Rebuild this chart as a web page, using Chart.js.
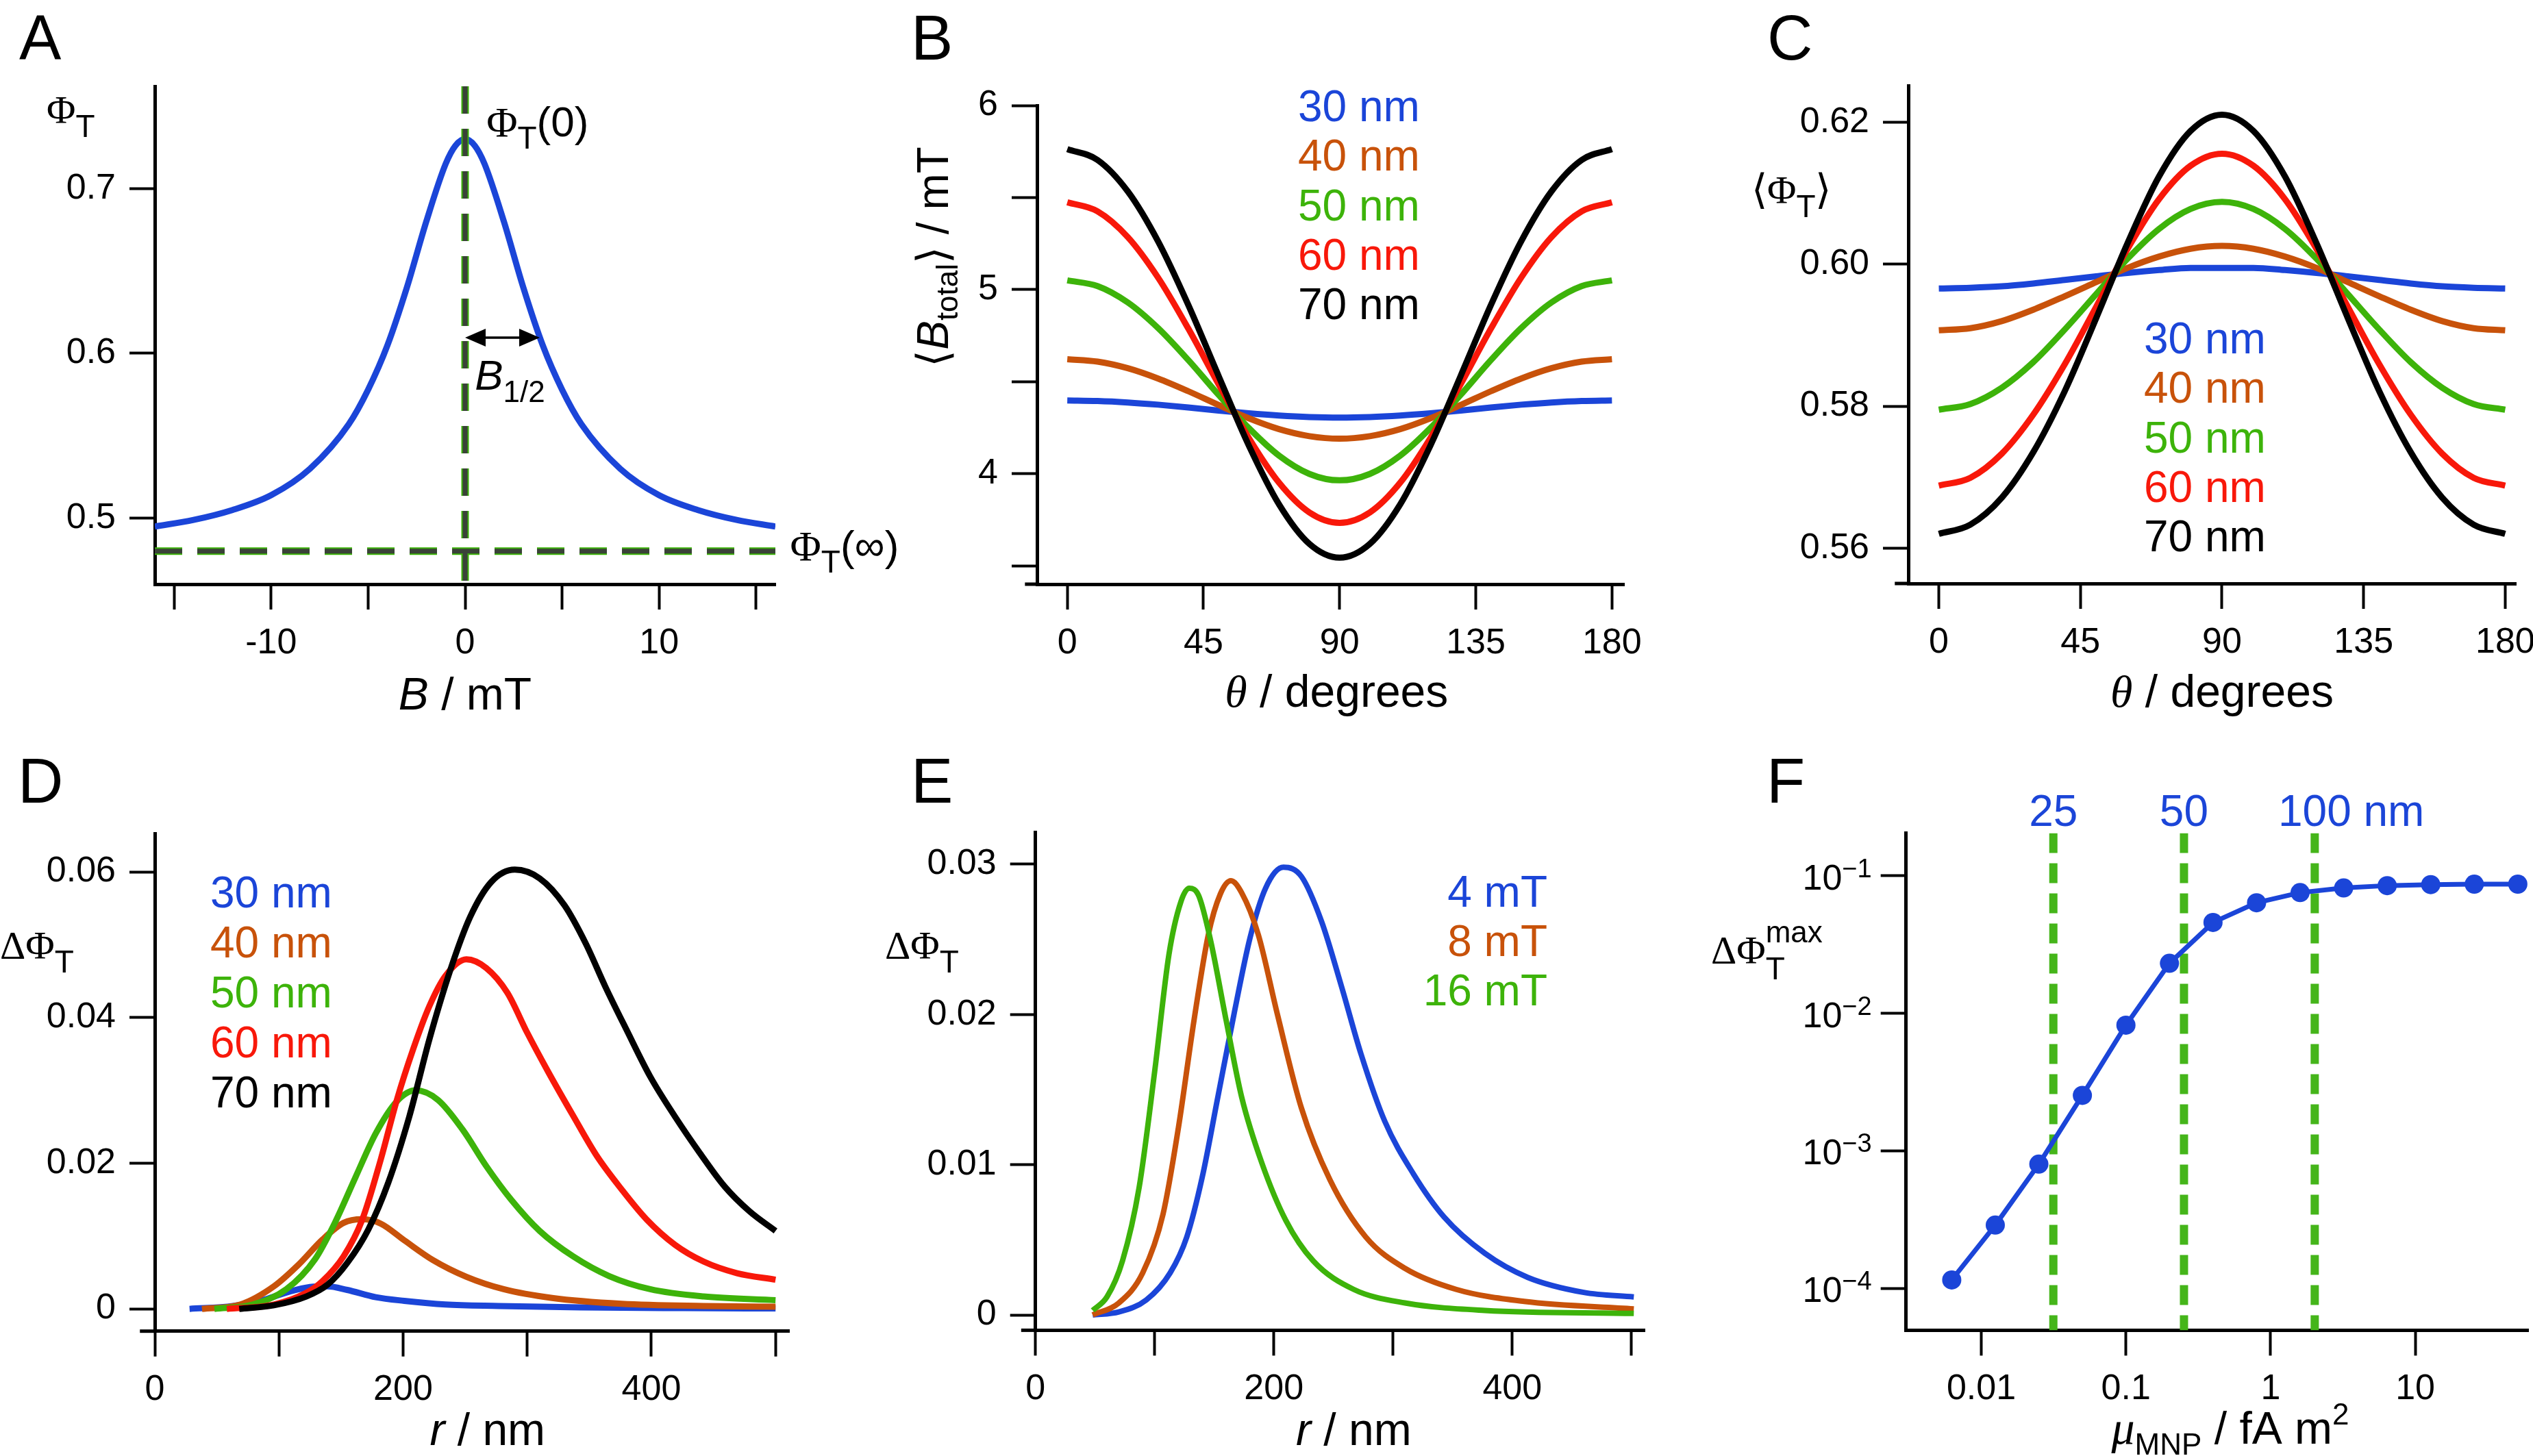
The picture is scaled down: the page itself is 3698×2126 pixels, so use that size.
<!DOCTYPE html>
<html>
<head>
<meta charset="utf-8">
<script src="https://cdn.jsdelivr.net/npm/chart.js@4.4.1/dist/chart.umd.min.js"></script>
<style>
  html, body { margin: 0; padding: 0; background: #fff; }
  body { width: 3698px; height: 2126px; position: relative; overflow: hidden; }
  .panel { position: absolute; }
</style>
</head>
<body>
<div class="panel" style="left:0px;top:0px"><canvas id="chartA" width="1350" height="1063"></canvas></div>
<div class="panel" style="left:1250px;top:0px"><canvas id="chartB" width="1200" height="1063"></canvas></div>
<div class="panel" style="left:2450px;top:0px"><canvas id="chartC" width="1248" height="1063"></canvas></div>
<div class="panel" style="left:0px;top:1063px"><canvas id="chartD" width="1250" height="1063"></canvas></div>
<div class="panel" style="left:1250px;top:1063px"><canvas id="chartE" width="1200" height="1063"></canvas></div>
<div class="panel" style="left:2450px;top:1063px"><canvas id="chartF" width="1248" height="1063"></canvas></div>
<script>
// ---- data ----

// A: Phi_T vs B
const bField = [-16, -14, -12, -10, -8, -6, -5, -4, -3, -2, -1, -0.5, 0, 0.5, 1, 2, 3, 4, 5, 6, 8, 10, 12, 14, 16];
const phiT = [0.495, 0.499, 0.505, 0.514, 0.530, 0.557, 0.578, 0.605, 0.640, 0.680, 0.715, 0.726, 0.730, 0.726, 0.715, 0.680, 0.640, 0.605, 0.578, 0.557, 0.530, 0.514, 0.505, 0.499, 0.495];
const phiZeroB = 0;        // vertical dashed line
const phiInf = 0.48;       // horizontal dashed line
const bHalf = 3.85;        // arrow length

// B and C: angle sweep
const theta = [0, 10, 20, 30, 40, 50, 60, 70, 80, 90, 100, 110, 120, 130, 140, 150, 160, 170, 180];
const sizeLabels = ['30 nm', '40 nm', '50 nm', '60 nm', '70 nm'];

const bTotal30 = [4.398, 4.395, 4.387, 4.375, 4.360, 4.343, 4.328, 4.316, 4.308, 4.305, 4.308, 4.316, 4.328, 4.343, 4.360, 4.375, 4.387, 4.395, 4.398];
const bTotal40 = [4.622, 4.609, 4.573, 4.517, 4.448, 4.373, 4.301, 4.242, 4.204, 4.190, 4.204, 4.242, 4.301, 4.373, 4.448, 4.517, 4.573, 4.609, 4.622];
const bTotal50 = [5.050, 5.019, 4.930, 4.791, 4.617, 4.428, 4.248, 4.098, 3.999, 3.964, 3.999, 4.098, 4.248, 4.428, 4.617, 4.791, 4.930, 5.019, 5.050];
const bTotal60 = [5.474, 5.425, 5.285, 5.065, 4.788, 4.486, 4.194, 3.951, 3.790, 3.733, 3.790, 3.951, 4.194, 4.486, 4.788, 5.065, 5.285, 5.425, 5.474];
const bTotal70 = [5.763, 5.704, 5.533, 5.262, 4.916, 4.531, 4.153, 3.833, 3.619, 3.544, 3.619, 3.833, 4.153, 4.531, 4.916, 5.262, 5.533, 5.704, 5.763];

const phiAvg30 = [0.5966, 0.5967, 0.5969, 0.5973, 0.5978, 0.5983, 0.5988, 0.5992, 0.5995, 0.5995, 0.5995, 0.5992, 0.5988, 0.5983, 0.5978, 0.5973, 0.5969, 0.5967, 0.5966];
const phiAvg40 = [0.5907, 0.5910, 0.5920, 0.5936, 0.5955, 0.5975, 0.5995, 0.6011, 0.6022, 0.6026, 0.6022, 0.6011, 0.5995, 0.5975, 0.5955, 0.5936, 0.5920, 0.5910, 0.5907];
const phiAvg50 = [0.5795, 0.5803, 0.5826, 0.5862, 0.5908, 0.5958, 0.6008, 0.6050, 0.6078, 0.6088, 0.6078, 0.6050, 0.6008, 0.5958, 0.5908, 0.5862, 0.5826, 0.5803, 0.5795];
const phiAvg60 = [0.5688, 0.5699, 0.5733, 0.5788, 0.5859, 0.5940, 0.6022, 0.6092, 0.6139, 0.6156, 0.6139, 0.6092, 0.6022, 0.5940, 0.5859, 0.5788, 0.5733, 0.5699, 0.5688];
const phiAvg70 = [0.5620, 0.5633, 0.5671, 0.5735, 0.5821, 0.5924, 0.6030, 0.6124, 0.6188, 0.6211, 0.6188, 0.6124, 0.6030, 0.5924, 0.5821, 0.5735, 0.5671, 0.5633, 0.5620];

// D: delta Phi_T vs r for each particle size
const rD30 = [28, 63, 89, 109, 125, 139, 155, 178, 201, 234, 277, 343, 426, 500];
const dPhiD30 = [0, 0.0004, 0.0013, 0.0024, 0.0030, 0.0031, 0.0026, 0.0016, 0.0011, 0.0006, 0.0004, 0.0002, 0.0001, 0.00005];
const rD40 = [38, 69, 96, 116, 135, 152, 167, 182, 201, 224, 251, 281, 320, 376, 442, 500];
const dPhiD40 = [0, 0.0006, 0.0031, 0.0061, 0.0095, 0.0118, 0.0123, 0.0117, 0.0094, 0.0067, 0.0044, 0.0027, 0.0015, 0.0007, 0.0004, 0.0003];
const rD50 = [48, 79, 106, 129, 145, 162, 178, 195, 210, 228, 248, 267, 287, 310, 337, 366, 399, 442, 500];
const dPhiD50 = [0, 0.0006, 0.0027, 0.0068, 0.0118, 0.0182, 0.0241, 0.0285, 0.0300, 0.0287, 0.0246, 0.0196, 0.0150, 0.0107, 0.0072, 0.0045, 0.0027, 0.0017, 0.0012];
const rD60 = [58, 96, 122, 135, 152, 167, 182, 195, 208, 221, 234, 251, 267, 284, 300, 317, 337, 356, 376, 396, 419, 442, 469, 500];
const dPhiD60 = [0, 0.0006, 0.0022, 0.0038, 0.0072, 0.0122, 0.0205, 0.0287, 0.0356, 0.0415, 0.0457, 0.0480, 0.0468, 0.0434, 0.0379, 0.0325, 0.0265, 0.0210, 0.0164, 0.0123, 0.0088, 0.0065, 0.0049, 0.0040];
const rD70 = [68, 96, 122, 139, 155, 172, 188, 205, 221, 238, 254, 271, 290, 310, 330, 347, 363, 380, 399, 419, 439, 459, 479, 500];
const dPhiD70 = [0, 0.0005, 0.0017, 0.0033, 0.0063, 0.0109, 0.0173, 0.0264, 0.0369, 0.0465, 0.0538, 0.0586, 0.0603, 0.0591, 0.0554, 0.0502, 0.0442, 0.0383, 0.0319, 0.0264, 0.0214, 0.0168, 0.0134, 0.0107];

// E: delta Phi_T vs r for three field strengths
const fieldLabels = ['4 mT', '8 mT', '16 mT'];
const rE4 = [48, 70, 93, 113, 127, 140, 153, 167, 180, 193, 208, 223, 240, 257, 273, 293, 317, 343, 377, 413, 460, 502];
const dPhiE4 = [0, 0.0002, 0.0010, 0.0028, 0.0052, 0.0092, 0.0145, 0.0202, 0.0251, 0.0284, 0.0298, 0.0292, 0.0262, 0.0218, 0.0174, 0.0129, 0.0094, 0.0065, 0.0041, 0.0025, 0.0015, 0.0012];
const rE8 = [48, 70, 90, 107, 120, 133, 145, 155, 164, 173, 187, 203, 223, 247, 277, 310, 353, 410, 502];
const dPhiE8 = [0, 0.0008, 0.0028, 0.0067, 0.0125, 0.0196, 0.0253, 0.0280, 0.0289, 0.0281, 0.0253, 0.0200, 0.0138, 0.0090, 0.0052, 0.0031, 0.0017, 0.0009, 0.0004];
const rE16 = [48, 60, 73, 87, 100, 112, 122, 129, 137, 147, 160, 173, 190, 210, 233, 267, 310, 377, 502];
const dPhiE16 = [0.0003, 0.0012, 0.0036, 0.0085, 0.0162, 0.0240, 0.0275, 0.0284, 0.0279, 0.0249, 0.0196, 0.0145, 0.0101, 0.0063, 0.0036, 0.0017, 0.0008, 0.0003, 0.0001];

// F: max delta Phi_T vs magnetic moment (log-log)
const muMNP = [0.00625, 0.0125, 0.025, 0.05, 0.1, 0.2, 0.4, 0.8, 1.6, 3.2, 6.4, 12.8, 25.6, 51.2];
const dPhiMax = [1.15e-4, 2.88e-4, 8.0e-4, 2.53e-3, 8.2e-3, 2.31e-2, 4.58e-2, 6.37e-2, 7.55e-2, 8.16e-2, 8.49e-2, 8.63e-2, 8.69e-2, 8.70e-2];
const diamMu = [0.0315, 0.252, 2.02];
const diamLabels = ['25', '50', '100'];

// tick values / labels
const aXTicks = [-15, -10, -5, 0, 5, 10, 15];
const aXLabels = ['', '-10', '', '0', '', '10', ''];
const aYTicks = [0.5, 0.6, 0.7];
const aYLabels = ['0.5', '0.6', '0.7'];
const thetaTicks = [0, 45, 90, 135, 180];
const thetaLabels = ['0', '45', '90', '135', '180'];
const bYTicks = [3.5, 4, 4.5, 5, 5.5, 6];
const bYLabels = ['', '4', '', '5', '', '6'];
const cYTicks = [0.56, 0.58, 0.60, 0.62];
const cYLabels = ['0.56', '0.58', '0.60', '0.62'];
const rTicks = [0, 100, 200, 300, 400, 500];
const rLabels = ['0', '', '200', '', '400', ''];
const dYTicks = [0, 0.02, 0.04, 0.06];
const dYLabels = ['0', '0.02', '0.04', '0.06'];
const eYTicks = [0, 0.01, 0.02, 0.03];
const eYLabels = ['0', '0.01', '0.02', '0.03'];
const fXTicks = [0.01, 0.1, 1, 10];
const fXLabels = ['0.01', '0.1', '1', '10'];
const fYTicks = [1e-4, 1e-3, 1e-2, 1e-1];
const fYExp = ['4', '3', '2', '1'];

// ---- styling ----
const SANS = "'Liberation Sans', Arial, Helvetica, sans-serif";
const SERIF = "'Liberation Serif', 'Times New Roman', serif";
Chart.defaults.font.family = SANS;
Chart.defaults.color = '#000';

const BLUE = '#1b45d8';
const BROWN = '#c8520a';
const GREEN = '#3db30a';
const RED = '#f8180a';
const BLACK = '#000000';
const SIZE_COLORS = [BLUE, BROWN, GREEN, RED, BLACK];
const FIELD_COLORS = [BLUE, BROWN, GREEN];

const TITLE = `66px ${SANS}`;
const TITLE_I = `italic 66px ${SANS}`;
const LEG = `64px ${SANS}`;
const GREEK = `58px ${SERIF}`;
const SUB = `46px ${SANS}`;
const LETTER = `92px ${SANS}`;
const Y_AXIS_W = 220;

// draw a row of text pieces: [text, font, dy, noAdvance]
function richText(ctx, parts, x, y, align, color) {
  ctx.save();
  ctx.fillStyle = color || '#000';
  ctx.textBaseline = 'alphabetic';
  ctx.textAlign = 'left';
  let w = 0;
  parts.forEach(p => { ctx.font = p[1]; if (!p[3]) w += ctx.measureText(p[0]).width; });
  let cx = align === 'center' ? x - w / 2 : align === 'right' ? x - w : x;
  parts.forEach(p => {
    ctx.font = p[1];
    ctx.fillText(p[0], cx, y + (p[2] || 0));
    if (!p[3]) cx += ctx.measureText(p[0]).width;
  });
  ctx.restore();
}

// axis with outward tick marks, fixed size so the plot box lands where we want
function axis(o) {
  return {
    type: o.type || 'linear',
    position: o.position,
    min: o.min,
    max: o.max,
    border: { display: true, width: 5, color: '#000' },
    grid: { drawOnChartArea: false, drawTicks: true, tickLength: 37, tickWidth: 4, tickColor: '#000' },
    ticks: {
      autoSkip: false,
      maxRotation: 0,
      padding: o.position === 'left' ? 20 : 18,
      font: { size: 52 },
      color: '#000',
      callback: (v, i) => (o.labels ? o.labels[i] : '')
    },
    afterBuildTicks: s => { s.ticks = o.ticks.map(v => ({ value: v })); },
    afterFit: s => {
      if (o.position === 'left') s.width = Y_AXIS_W; else s.height = 150;
      s.paddingLeft = 0; s.paddingRight = 0; s.paddingTop = 0; s.paddingBottom = 0;
    }
  };
}

// plot box edges given in canvas pixels
const plotBox = (left, top, right, bottom, w, h) => ({
  left: left - Y_AXIS_W, top, right: w - right, bottom: h - bottom - 150
});

const baseOptions = (padding, x, y) => ({
  responsive: false,
  animation: false,
  devicePixelRatio: 1,
  events: [],
  layout: { padding, autoPadding: false },
  plugins: { legend: { display: false }, tooltip: { enabled: false } },
  elements: { point: { radius: 0 }, line: { borderCapStyle: 'butt', borderJoinStyle: 'round', fill: false } },
  scales: { x, y }
});

const curve = (xs, ys, color, label, order, width) => ({
  label,
  data: xs.map((x, i) => ({ x, y: ys[i] })),
  borderColor: color,
  backgroundColor: color,
  borderWidth: width || 9,
  cubicInterpolationMode: 'monotone',
  pointRadius: 0,
  order
});

const dashLine = (pts, color, width, dash, order) => ({
  data: pts,
  borderColor: color,
  borderWidth: width,
  borderDash: dash,
  pointRadius: 0,
  order
});

const overlay = (id, draw) => ({
  id,
  afterDraw(chart) {
    const ctx = chart.ctx;
    ctx.save();
    draw(ctx, chart, chart.scales.x, chart.scales.y, chart.chartArea);
    ctx.restore();
  }
});

// x axis line sticks out past the y axis in most panels
function axisOverhang(ctx, xs, ca, from) {
  ctx.strokeStyle = '#000';
  ctx.lineWidth = 5;
  ctx.beginPath();
  ctx.moveTo(xs.getPixelForValue(from), ca.bottom);
  ctx.lineTo(ca.left, ca.bottom);
  ctx.stroke();
}

// coloured text legend, one line per labelled dataset
function sizeLegend(ctx, chart, x, y0, step, align) {
  chart.data.datasets.filter(d => d.label).sort((a, b) => a.legendIndex - b.legendIndex).forEach((d, i) => {
    richText(ctx, [[d.label, LEG]], x, y0 + i * step, align, d.borderColor);
  });
}

// ---- A ----
const aYMin = 0.46, aYMax = 0.762;
new Chart(document.getElementById('chartA'), {
  type: 'line',
  data: {
    datasets: [
      dashLine([{ x: phiZeroB, y: aYMax }, { x: phiZeroB, y: aYMin }], '#3a4238', 7, [40, 22], 0),
      dashLine([{ x: phiZeroB, y: aYMax }, { x: phiZeroB, y: aYMin }], GREEN, 11, [40, 22], 1),
      dashLine([{ x: -16, y: phiInf }, { x: 16, y: phiInf }], '#3a4238', 7, [40, 22], 2),
      dashLine([{ x: -16, y: phiInf }, { x: 16, y: phiInf }], GREEN, 11, [40, 22], 3),
      curve(bField, phiT, BLUE, null, 5, 9)
    ]
  },
  options: baseOptions(plotBox(226, 126, 1132, 853, 1350, 1063),
    axis({ position: 'bottom', min: -16, max: 16, ticks: aXTicks, labels: aXLabels }),
    axis({ position: 'left', min: aYMin, max: aYMax, ticks: aYTicks, labels: aYLabels })),
  plugins: [overlay('panelA', (ctx, chart, xs, ys, ca) => {
    richText(ctx, [['A', LETTER]], 28, 87);
    richText(ctx, [['Φ', GREEK], ['T', SUB, 20]], 68, 180);
    richText(ctx, [['B', TITLE_I], [' / mT', TITLE]], (ca.left + ca.right) / 2, 1036, 'center');
    richText(ctx, [['Φ', `62px ${SERIF}`], ['T', SUB, 18], ['(0)', `62px ${SANS}`]], xs.getPixelForValue(1.1), ys.getPixelForValue(0.7315));
    richText(ctx, [['Φ', `62px ${SERIF}`], ['T', SUB, 18], ['(∞)', `62px ${SANS}`]], xs.getPixelForValue(16.76), ys.getPixelForValue(0.4745));
    richText(ctx, [['B', `italic 62px ${SANS}`], ['1/2', `44px ${SANS}`, 18]], xs.getPixelForValue(0.5), ys.getPixelForValue(0.578));
    // double headed arrow for B1/2
    const x0 = xs.getPixelForValue(0), x1 = xs.getPixelForValue(bHalf), ay = ys.getPixelForValue(0.6095);
    ctx.strokeStyle = '#000';
    ctx.fillStyle = '#000';
    ctx.lineWidth = 3.5;
    ctx.beginPath(); ctx.moveTo(x0 + 20, ay); ctx.lineTo(x1 - 20, ay); ctx.stroke();
    ctx.beginPath(); ctx.moveTo(x0, ay); ctx.lineTo(x0 + 30, ay - 13); ctx.lineTo(x0 + 30, ay + 13); ctx.closePath(); ctx.fill();
    ctx.beginPath(); ctx.moveTo(x1, ay); ctx.lineTo(x1 - 30, ay - 13); ctx.lineTo(x1 - 30, ay + 13); ctx.closePath(); ctx.fill();
  })]
});

// ---- B ----
const bSeries = [bTotal30, bTotal40, bTotal50, bTotal60, bTotal70];
new Chart(document.getElementById('chartB'), {
  type: 'line',
  data: {
    datasets: bSeries.map((s, i) => Object.assign(curve(theta, s, SIZE_COLORS[i], sizeLabels[i], 5 - i), { legendIndex: i }))
  },
  options: baseOptions(plotBox(264, 154, 1121, 853, 1200, 1063),
    axis({ position: 'bottom', min: -10, max: 184, ticks: thetaTicks, labels: thetaLabels }),
    axis({ position: 'left', min: 3.4, max: 6, ticks: bYTicks, labels: bYLabels })),
  plugins: [overlay('panelB', (ctx, chart, xs, ys, ca) => {
    axisOverhang(ctx, xs, ca, -14);
    richText(ctx, [['B', LETTER]], 80, 87);
    richText(ctx, [['θ', `italic 66px ${SERIF}`], [' / degrees', TITLE]], xs.getPixelForValue(89), 1032, 'center');
    ctx.save();
    ctx.translate(134, 375);
    ctx.rotate(-Math.PI / 2);
    richText(ctx, [['⟨', `64px ${SANS}`], ['B', `italic 64px ${SANS}`], ['total', `44px ${SANS}`, 14], ['⟩ / mT', `64px ${SANS}`]], 0, 0, 'center');
    ctx.restore();
    sizeLegend(ctx, chart, 645, 177, 72.3, 'left');
  })]
});

// ---- C ----
const cSeries = [phiAvg30, phiAvg40, phiAvg50, phiAvg60, phiAvg70];
new Chart(document.getElementById('chartC'), {
  type: 'line',
  data: {
    datasets: cSeries.map((s, i) => Object.assign(curve(theta, s, SIZE_COLORS[i], sizeLabels[i], 5 - i), { legendIndex: i }))
  },
  options: baseOptions(plotBox(336, 125, 1223, 852, 1248, 1063),
    axis({ position: 'bottom', min: -9.7, max: 183.4, ticks: thetaTicks, labels: thetaLabels }),
    axis({ position: 'left', min: 0.555, max: 0.6252, ticks: cYTicks, labels: cYLabels })),
  plugins: [overlay('panelC', (ctx, chart, xs, ys, ca) => {
    axisOverhang(ctx, xs, ca, -14);
    richText(ctx, [['C', LETTER]], 130, 87);
    richText(ctx, [['θ', `italic 66px ${SERIF}`], [' / degrees', TITLE]], xs.getPixelForValue(90), 1032, 'center');
    richText(ctx, [['⟨', `60px ${SANS}`], ['Φ', GREEK], ['T', SUB, 20], ['⟩', `60px ${SANS}`]], 107, 297);
    sizeLegend(ctx, chart, 680, 516, 72.3, 'left');
  })]
});

// ---- D ----
const dR = [rD30, rD40, rD50, rD60, rD70];
const dPhi = [dPhiD30, dPhiD40, dPhiD50, dPhiD60, dPhiD70];
new Chart(document.getElementById('chartD'), {
  type: 'line',
  data: {
    datasets: dR.map((r, i) => Object.assign(curve(r, dPhi[i], SIZE_COLORS[i], sizeLabels[i], 5 - i), { legendIndex: i }))
  },
  options: baseOptions(plotBox(226, 154.7, 1152, 880.7, 1250, 1063),
    axis({ position: 'bottom', min: 0, max: 510.9, ticks: rTicks, labels: rLabels }),
    axis({ position: 'left', min: -0.00306, max: 0.0652, ticks: dYTicks, labels: dYLabels })),
  plugins: [overlay('panelD', (ctx, chart, xs, ys, ca) => {
    axisOverhang(ctx, xs, ca, -12);
    richText(ctx, [['D', LETTER]], 26, 109);
    richText(ctx, [['ΔΦ', GREEK], ['T', SUB, 20]], 0, 337);
    richText(ctx, [['r', `italic 66px ${SANS}`], [' / nm', TITLE]], xs.getPixelForValue(268), 1047, 'center');
    sizeLegend(ctx, chart, 307, 262, 73, 'left');
  })]
});

// ---- E ----
const eR = [rE4, rE8, rE16];
const ePhi = [dPhiE4, dPhiE8, dPhiE16];
new Chart(document.getElementById('chartE'), {
  type: 'line',
  data: {
    datasets: eR.map((r, i) => Object.assign(curve(r, ePhi[i], FIELD_COLORS[i], fieldLabels[i], 3 - i, 8), { legendIndex: i }))
  },
  options: baseOptions(plotBox(261.7, 152, 1151.8, 879.4, 1200, 1063),
    axis({ position: 'bottom', min: 0, max: 511.5, ticks: rTicks, labels: rLabels }),
    axis({ position: 'left', min: -0.00102, max: 0.03214, ticks: eYTicks, labels: eYLabels })),
  plugins: [overlay('panelE', (ctx, chart, xs, ys, ca) => {
    axisOverhang(ctx, xs, ca, -12);
    richText(ctx, [['E', LETTER]], 80, 109);
    richText(ctx, [['ΔΦ', GREEK], ['T', SUB, 20]], 42, 337);
    richText(ctx, [['r', `italic 66px ${SANS}`], [' / nm', TITLE]], xs.getPixelForValue(267), 1047, 'center');
    sizeLegend(ctx, chart, 1009, 261, 72.2, 'right');
  })]
});

// ---- F ----
const fYMin = 4.95e-5, fYMax = 0.2047;
new Chart(document.getElementById('chartF'), {
  type: 'line',
  data: {
    datasets: [
      {
        data: muMNP.map((m, i) => ({ x: m, y: dPhiMax[i] })),
        borderColor: BLUE,
        borderWidth: 7,
        pointRadius: 14,
        pointBackgroundColor: BLUE,
        pointBorderWidth: 0,
        tension: 0,
        order: 0
      },
      ...diamMu.map((m, i) => dashLine([{ x: m, y: fYMax }, { x: m, y: fYMin }], '#45b51a', 12, [29, 15], 1 + i))
    ]
  },
  options: baseOptions(plotBox(332.7, 153.4, 1241.6, 879.4, 1248, 1063),
    axis({ type: 'logarithmic', position: 'bottom', min: 0.00302, max: 60.8, ticks: fXTicks, labels: fXLabels }),
    axis({ type: 'logarithmic', position: 'left', min: fYMin, max: fYMax, ticks: fYTicks })),
  plugins: [overlay('panelF', (ctx, chart, xs, ys, ca) => {
    richText(ctx, [['F', LETTER]], 129, 109);
    // log tick labels 10^-n
    fYTicks.forEach((v, i) => {
      const py = ys.getPixelForValue(v);
      richText(ctx, [['10', `52px ${SANS}`], ['\u2212' + fYExp[i], `38px ${SANS}`, -18]], ca.left - 37 - 13, py + 20, 'right');
    });
    richText(ctx, [['ΔΦ', GREEK], ['T', SUB, 23, true], ['max', `44px ${SANS}`, -31]], 48, 344);
    richText(ctx, [['μ', `italic 68px ${SERIF}`], ['MNP', `44px ${SANS}`, 16], [' / fA m', TITLE], ['2', `44px ${SANS}`, -28]], 806, 1045, 'center');
    // diameter labels above the dashed lines
    diamMu.forEach((m, i) => {
      const px = xs.getPixelForValue(m);
      richText(ctx, [[diamLabels[i], LEG]], px, 143, 'center', BLUE);
      if (i === diamMu.length - 1) {
        ctx.font = LEG;
        const w = ctx.measureText(diamLabels[i]).width;
        richText(ctx, [[' nm', LEG]], px + w / 2, 143, 'left', BLUE);
      }
    });
  })]
});
</script>
</body>
</html>
